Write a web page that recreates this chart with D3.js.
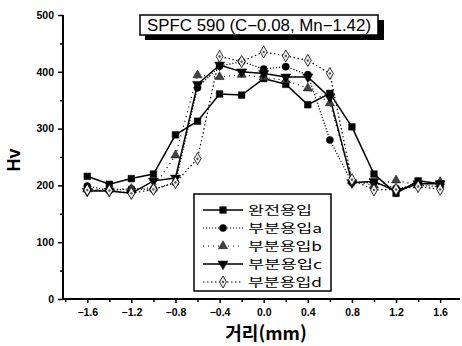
<!DOCTYPE html>
<html lang="ko">
<head>
<meta charset="UTF-8">
<title>SPFC 590 Hv</title>
<style>
  body { margin: 0; background: #fff; }
  svg text { font-family: "Liberation Sans", Arial, sans-serif; }
  .kr { font-family: "Noto Sans CJK KR", "Noto Sans", sans-serif; }
</style>
</head>
<body>
<script src="https://d3js.org/d3.v7.min.js"></script>
<script>
  // size of the picture
  let width = 462;
  let height = 346;

  // data
  let distance = [-1.6, -1.4, -1.2, -1.0, -0.8, -0.6, -0.4, -0.2, 0.0, 0.2, 0.4, 0.6, 0.8, 1.0, 1.2, 1.4, 1.6];
  let full = [216, 202, 212, 220, 289, 313, 361, 359, 388, 378, 342, 362, 303, 220, 186, 208, 203];
  let partA = [199, 191, 194, 193, 205, 372, 410, 418, 405, 409, 395, 280, 205, 205, 195, 200, 198];
  let partB = [193, 193, 194, 196, 253, 394, 391, 395, 390, 385, 371, 345, 208, 200, 209, 200, 206];
  let partC = [190, 190, 186, 208, 213, 378, 412, 400, 397, 391, 391, 355, 205, 207, 190, 203, 203];
  let partD = [192, 191, 186, 193, 205, 247, 427, 418, 435, 428, 420, 397, 210, 192, 193, 198, 193];
  let seriesNames = ['완전용입', '부분용입a', '부분용입b', '부분용입c', '부분용입d'];
  let xTicks = [-1.6, -1.2, -0.8, -0.4, 0.0, 0.4, 0.8, 1.2, 1.6];
  let yTicks = [0, 100, 200, 300, 400, 500];
  let title = 'SPFC 590 (C\u22120.08, Mn\u22121.42)';

  let series = [
    { name: seriesNames[0], values: full, symbol: d3.symbolSquare, fill: '#000', dash: null, size: 44 },
    { name: seriesNames[1], values: partA, symbol: d3.symbolCircle, fill: '#000', dash: '1.2,1.8', size: 40 },
    { name: seriesNames[2], values: partB, symbol: d3.symbolTriangle, fill: '#444', dash: '1,4', size: 36 },
    { name: seriesNames[3], values: partC, symbol: d3.symbolTriangle, fill: '#000', dash: null, size: 44, flip: true },
    { name: seriesNames[4], values: partD, symbol: d3.symbolDiamond, fill: '#eee', dash: '1.5,2.5', size: 42, hollow: true }
  ];

  let xScale = d3.scaleLinear().domain([-1.82, 1.78]).range([63, 460]);
  let yScale = d3.scaleLinear().domain([0, 500]).range([299, 15]);

  let svg = d3.select('body').append('svg')
      .attr('width', width)
      .attr('height', height);

  // axes
  let xAxis = d3.axisBottom(xScale)
      .tickValues(xTicks)
      .tickSize(4)
      .tickFormat(d3.format('.1f'));
  let yAxis = d3.axisLeft(yScale)
      .tickValues(yTicks)
      .tickSize(5);

  // minor ticks
  svg.append('g')
      .attr('transform', 'translate(0,299)')
      .call(d3.axisBottom(xScale).tickValues(d3.range(-1.8, 1.81, 0.4)).tickSize(3).tickFormat(''))
      .call(g => g.select('.domain').remove());
  svg.append('g')
      .attr('transform', 'translate(63,0)')
      .call(d3.axisLeft(yScale).tickValues([50, 150, 250, 350, 450]).tickSize(3).tickFormat(''))
      .call(g => g.select('.domain').remove());

  let gx = svg.append('g')
      .attr('transform', 'translate(0,299)')
      .call(xAxis);
  gx.select('.domain').attr('d', 'M63,0H460').attr('stroke-width', 2);
  gx.selectAll('text')
      .attr('dy', '0.95em')
      .attr('font-size', 10.5)
      .attr('font-weight', 'bold')
      .text(d => d === 0 ? '0.0' : d3.format('.1f')(d));

  let gy = svg.append('g')
      .attr('transform', 'translate(63,0)')
      .call(yAxis);
  gy.select('.domain').attr('d', 'M0,15V299').attr('stroke-width', 2);
  gy.selectAll('text')
      .attr('x', -9)
      .attr('font-size', 10.5)
      .attr('font-weight', 'bold');
  svg.selectAll('.tick line').attr('stroke-width', 1.5);

  // axis titles
  svg.append('text')
      .attr('transform', 'translate(20,160) rotate(-90)')
      .attr('text-anchor', 'middle')
      .attr('font-size', 18)
      .attr('font-weight', 'bold')
      .text('Hv');
  svg.append('text')
      .attr('class', 'kr')
      .attr('x', 266)
      .attr('y', 340)
      .attr('text-anchor', 'middle')
      .attr('font-size', 18)
      .attr('font-weight', 'bold')
      .text('거리(mm)');

  // lines and markers
  let line = d3.line()
      .x((d, i) => xScale(distance[i]))
      .y(d => yScale(d));

  function drawMarker(g, s) {
    let path = g.append('path')
        .attr('d', d3.symbol().type(s.symbol).size(s.size)())
        .attr('fill', s.fill)
        .attr('stroke', '#000')
        .attr('stroke-width', s.hollow ? 0.8 : 0.5);
    if (s.flip) path.attr('transform', 'rotate(180)');
    if (s.hollow) {
      g.append('circle').attr('r', 1.2).attr('fill', '#555');
    }
  }

  series.forEach(function(s) {
    svg.append('path')
        .attr('d', line(s.values))
        .attr('fill', 'none')
        .attr('stroke', '#000')
        .attr('stroke-width', s.dash ? 1.2 : 1.5)
        .attr('stroke-dasharray', s.dash);
  });

  series.forEach(function(s) {
    svg.append('g').selectAll('g')
        .data(s.values)
        .enter()
        .append('g')
        .attr('transform', (d, i) => 'translate(' + xScale(distance[i]) + ',' + yScale(d) + ')')
        .each(function() { drawMarker(d3.select(this), s); });
  });

  // title box with shadow
  let tb = svg.append('g');
  tb.append('rect')
      .attr('x', 145).attr('y', 20).attr('width', 239).attr('height', 20)
      .attr('fill', '#000');
  tb.append('rect')
      .attr('x', 140).attr('y', 15).attr('width', 238).attr('height', 20)
      .attr('fill', '#fff').attr('stroke', '#000').attr('stroke-width', 1.5);
  tb.append('text')
      .attr('x', 259).attr('y', 31)
      .attr('text-anchor', 'middle')
      .attr('font-size', 16)
      .attr('textLength', 224)
      .attr('lengthAdjust', 'spacingAndGlyphs')
      .text(title);

  // legend
  let legend = svg.append('g');
  legend.append('rect')
      .attr('x', 194).attr('y', 194).attr('width', 137).attr('height', 97)
      .attr('fill', '#fff').attr('stroke', '#000').attr('stroke-width', 1.5);
  let rows = legend.selectAll('.row')
      .data(series)
      .enter()
      .append('g')
      .attr('class', 'row')
      .attr('transform', (d, i) => 'translate(0,' + (210 + i * 18) + ')');
  rows.append('line')
      .attr('x1', 203).attr('x2', 243)
      .attr('stroke', '#000')
      .attr('stroke-width', d => d.dash ? 1.2 : 1.5)
      .attr('stroke-dasharray', d => d.dash);
  rows.append('g')
      .attr('transform', 'translate(223,0)')
      .each(function(d) { drawMarker(d3.select(this), d); });
  rows.append('text')
      .attr('class', 'kr')
      .attr('x', 248)
      .attr('y', 5)
      .attr('font-size', 12.5)
      .attr('textLength', d => d.name.length > 4 ? 74 : 64)
      .attr('lengthAdjust', 'spacingAndGlyphs')
      .text(d => d.name);
</script>
</body>
</html>
